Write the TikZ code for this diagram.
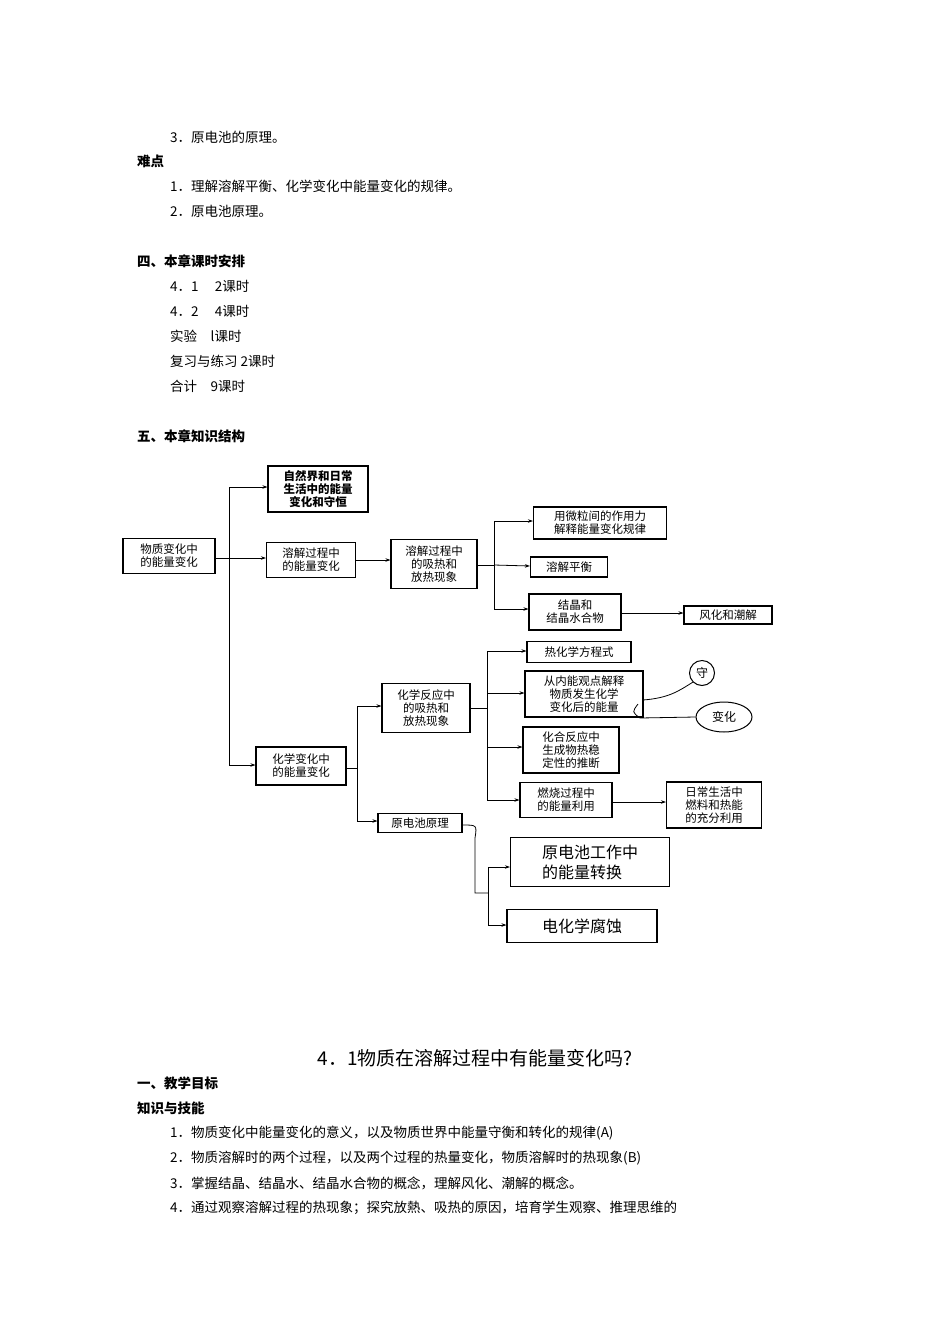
\documentclass[tikz,border=0pt]{standalone}
\usepackage{fontspec}
\setmainfont{Liberation Serif}
\newfontfamily\cjk{Noto Sans CJK SC}
\usetikzlibrary{arrows.meta,shapes.geometric}
\begin{document}
\begin{tikzpicture}[x=1pt,y=-1pt,
  body/.style={anchor=west,inner sep=0pt,font=\cjk\fontsize{13.5}{15}\selectfont},
  head/.style={anchor=west,inner sep=0pt,font=\cjk\bfseries\fontsize{13.5}{15}\selectfont},
  bx/.style={draw,line width=1.1pt,inner sep=0pt,align=center,font=\cjk\fontsize{11.5}{13}\selectfont},
  hw/.style={draw,line width=1.1pt,inner sep=2pt,align=left,font=\cjk\fontsize{16}{20}\selectfont},
  ar/.style={line width=0.8pt,-{Stealth[length=5pt,width=3.5pt]}},
  ln/.style={line width=0.8pt}]
\useasboundingbox (0,0) rectangle (950,1344);
% page text
\node[body] (t1) at (170,137) {3．原电池的原理。};
\node[head] (t2) at (137,161) {难点};
\node[body] (t3) at (170,186) {1．理解溶解平衡、化学变化中能量变化的规律。};
\node[body] (t4) at (170,211) {2．原电池原理。};
\node[head] (t5) at (137,261) {四、本章课时安排};
\node[body] (t6) at (170,286) {4．1\hspace{1.2em}2课时};
\node[body] (t7) at (170,311) {4．2\hspace{1.2em}4课时};
\node[body] (t8) at (170,336) {实验\hspace{1em}l课时};
\node[body] (t9) at (170,361) {复习与练习 2课时};
\node[body] (t10) at (170,386) {合计\hspace{1em}9课时};
\node[head] (t11) at (137,436) {五、本章知识结构};
\node[inner sep=0pt,font=\cjk\fontsize{19}{22}\selectfont] (ttl) at (475,1058) {4．1物质在溶解过程中有能量变化吗?};
\node[head] (t12) at (137,1083) {一、教学目标};
\node[head] (t13) at (137,1108) {知识与技能};
\node[body] (t14) at (170,1133) {1．物质变化中能量变化的意义，以及物质世界中能量守衡和转化的规律(A)};
\node[body] (t15) at (170,1158) {2．物质溶解时的两个过程，以及两个过程的热量变化，物质溶解时的热现象(B)};
\node[body] (t16) at (170,1183) {3．掌握结晶、结晶水、结晶水合物的概念，理解风化、潮解的概念。};
\node[body] (t17) at (170,1208) {4．通过观察溶解过程的热现象；探究放熱、吸热的原因，培育学生观察、推理思维的};
% diagram boxes
\node[bx,minimum width=92pt,minimum height=35pt] (A) at (169,556) {物质变化中\\的能量变化};
\node[bx,minimum width=100pt,minimum height=46pt] (B1) at (318,489) {\bfseries 自然界和日常\\\bfseries 生活中的能量\\\bfseries 变化和守恒};
\node[bx,minimum width=89pt,minimum height=35pt] (B2) at (311,560) {溶解过程中\\的能量变化};
\node[bx,minimum width=90pt,minimum height=38pt] (B3) at (301,766) {化学变化中\\的能量变化};
\node[bx,minimum width=86pt,minimum height=49pt] (C1) at (434,564) {溶解过程中\\的吸热和\\放热现象};
\node[bx,minimum width=133pt,minimum height=32pt] (D1) at (600,523) {用微粒间的作用力\\解释能量变化规律};
\node[bx,minimum width=77pt,minimum height=20pt] (D2) at (569,567) {溶解平衡};
\node[bx,minimum width=92pt,minimum height=36pt] (D3) at (575,612) {结晶和\\结晶水合物};
\node[bx,minimum width=88pt,minimum height=18pt] (E) at (728,615) {风化和潮解};
\node[bx,minimum width=88pt,minimum height=49pt] (C2) at (426,708) {化学反应中\\的吸热和\\放热现象};
\node[bx,minimum width=84pt,minimum height=19pt] (C3) at (420,823) {原电池原理};
\node[bx,minimum width=104pt,minimum height=21pt] (F1) at (579,652) {热化学方程式};
\node[bx,minimum width=118pt,minimum height=46pt] (F2) at (584,694) {从内能观点解释\\物质发生化学\\变化后的能量};
\node[bx,minimum width=96pt,minimum height=46pt] (F3) at (571,750) {化合反应中\\生成物热稳\\定性的推断};
\node[bx,minimum width=92pt,minimum height=35pt] (F4) at (566,800) {燃烧过程中\\的能量利用};
\node[bx,minimum width=95pt,minimum height=46pt] (G) at (714,805) {日常生活中\\燃料和热能\\的充分利用};
\node[hw,minimum width=159pt,minimum height=49pt] (H1) at (590,862) {原电池工作中\\的能量转换};
\node[hw,minimum width=150pt,minimum height=33pt] (H2) at (582,926) {电化学腐蚀};
\node[draw,circle,line width=1pt,minimum size=25pt,inner sep=0pt,font=\cjk\fontsize{12}{13}\selectfont] (K1) at (702,673) {守};
\node[draw,ellipse,line width=1pt,minimum width=56pt,minimum height=30pt,inner sep=0pt,font=\cjk\fontsize{12}{13}\selectfont] (K2) at (724,717) {变化};
% connectors
\coordinate (ta) at (229,558);
\draw[ln] (A.east|-ta) -- (ta);
\draw[ar] (229,765) -- (229,487) -- (B1.west|-0,487);
\draw[ar] (ta) -- (B2.west|-ta);
\draw[ar] (229,765) -- (B3.west|-0,765);
\draw[ar] (B2.east) -- (C1.west|-B2.east);
\draw[ln] (C1.east|-0,565) -- (494,565);
\draw[ar] (494,565) -- (494,521) -- (D1.west|-0,521);
\draw[ar] (494,565) -- (D2.west|-0,566);
\draw[ar] (494,565) -- (494,609) -- (D3.west|-0,609);
\draw[ar] (D3.east|-0,613) -- (E.west|-0,613);
\draw[ln] (B3.east|-0,768) -- (357,768);
\draw[ar] (357,768) -- (357,706) -- (C2.west|-0,706);
\draw[ar] (357,768) -- (357,821) -- (C3.west|-0,821);
\draw[ln] (C2.east|-0,708) -- (487,708);
\draw[ar] (487,708) -- (487,651) -- (F1.west|-0,651);
\draw[ar] (487,708) -- (487,693) -- (F2.west|-0,693);
\draw[ar] (487,708) -- (487,747) -- (F3.west|-0,747);
\draw[ar] (487,708) -- (487,800) -- (F4.west|-0,800);
\draw[ar] (F4.east|-0,802) -- (G.west|-0,802);
\draw[ln] (C3.east|-0,825) .. controls (477,825) .. (475,838) -- (475,893) -- (488,893);
\draw[ar] (488,893) -- (488,867) -- (H1.west|-0,867);
\draw[ar] (488,893) -- (488,925) -- (H2.west|-0,925);
\draw[ln] (643,700) .. controls (670,698) and (680,690) .. (K1.south west);
\draw[ln] (638,704) .. controls (632,712) .. (640,718) -- (K2.west);
\end{tikzpicture}
\end{document}
